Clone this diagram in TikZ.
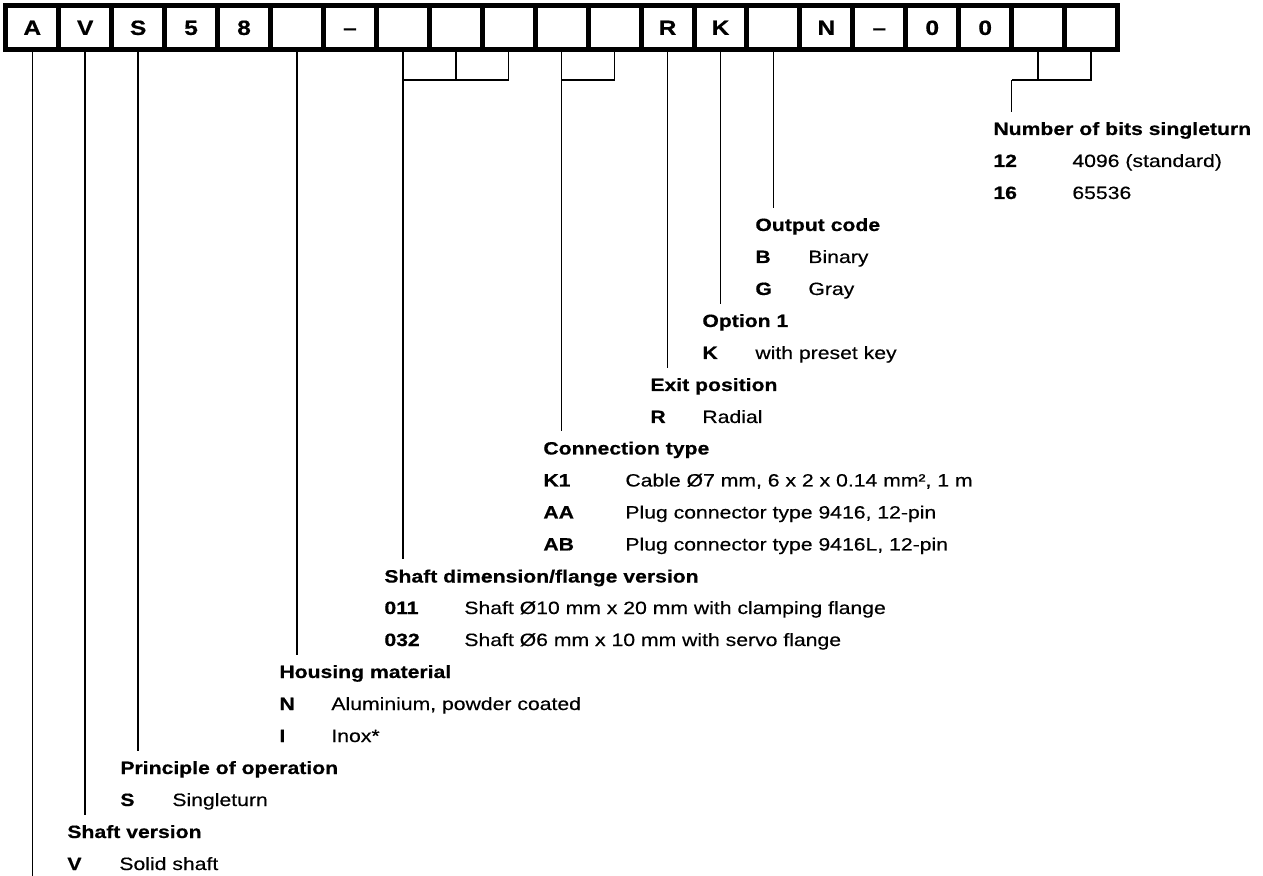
\documentclass[tikz,border=0pt]{standalone}
\usepackage{fontspec}
\setmainfont{Liberation Sans}[FakeStretch=1.19,
  UprightFeatures={FakeBold=0.35}, BoldFeatures={FakeBold=0.6}]
\usetikzlibrary{calc, positioning}

\begin{document}
\begin{tikzpicture}[x=0.5pt, y=-0.5pt,
    digit/.style={draw, line width=2.5pt, outer sep=0pt, inner sep=0pt,
      minimum width=26.47pt, minimum height=22pt, text height=7.4pt, text depth=0pt,
      font=\fontsize{10.3}{11}\selectfont\bfseries},
    leader/.style={line width=0.75pt},
    head/.style={anchor=base west, inner sep=0pt, font=\fontsize{8.9}{10}\selectfont\bfseries},
    key/.style={anchor=base west, inner sep=0pt, font=\fontsize{8.9}{10}\selectfont\bfseries},
    val/.style={anchor=base west, inner sep=0pt, font=\fontsize{8.9}{10}\selectfont}]
  \useasboundingbox (0,0) rectangle (1263,876);

  % Type code boxes
  \foreach \ch [count=\i from 0] in {A,V,S,5,8,{},\textendash,{},{},{},{},{},R,K,{},N,\textendash,0,0,{},{}}
    \node[digit] (b\i) at ({5.8+52.94*(\i+0.5)},27.5) {\ch};

  % Brackets under grouped boxes
  \coordinate (j7) at ([yshift=-15.25pt]b7.south);
  \coordinate (j10) at ([yshift=-15.25pt]b10.south);
  \coordinate (j19) at ([yshift=-15.25pt]b19.south west);
  \draw[leader] (b9.south) |- (j7);
  \draw[leader] (b8.south) -- (b8.south |- j7);
  \draw[leader] (b11.south) |- (j10);
  \draw[leader] (b20.south) |- (j19);
  \draw[leader] (b19.south) -- (b19.south |- j19);

  % Number of bits singleturn
  \node[head] (hbits) at (993,135) {Number of bits singleturn};
  \node[key] (k12) at (993,167) {12};
  \node[val] (v12) at (1072,167) {4096 (standard)};
  \node[key] (k16) at (993,199) {16};
  \node[val] (v16) at (1072,199) {65536};
  \draw[leader] (j19) -- ([yshift=11.5pt]j19 |- hbits.base);

  % Output code
  \node[head] (hout) at (755,231) {Output code};
  \node[key] (kB) at (755,263) {B};
  \node[val] (vB) at (808,263) {Binary};
  \node[key] (kG) at (755,295) {G};
  \node[val] (vG) at (808,295) {Gray};
  \draw[leader] (b14.south) -- ([yshift=11.5pt]b14.south |- hout.base);

  % Option 1
  \node[head] (hopt) at (702,327) {Option 1};
  \node[key] (kK) at (702,359) {K};
  \node[val] (vK) at (755,359) {with preset key};
  \draw[leader] (b13.south) -- ([yshift=11.5pt]b13.south |- hopt.base);

  % Exit position
  \node[head] (hexit) at (650,391) {Exit position};
  \node[key] (kR) at (650,423) {R};
  \node[val] (vR) at (702,423) {Radial};
  \draw[leader] (b12.south) -- ([yshift=11.5pt]b12.south |- hexit.base);

  % Connection type
  \node[head] (hconn) at (543,454.5) {Connection type};
  \node[key] (kK1) at (543,486.5) {K1};
  \node[val] (vK1) at (625,486.5) {Cable Ø7 mm, 6 x 2 x 0.14 mm², 1 m};
  \node[key] (kAA) at (543,518.5) {AA};
  \node[val] (vAA) at (625,518.5) {Plug connector type 9416, 12-pin};
  \node[key] (kAB) at (543,550.5) {AB};
  \node[val] (vAB) at (625,550.5) {Plug connector type 9416L, 12-pin};
  \draw[leader] (b10.south) -- ([yshift=11.5pt]b10.south |- hconn.base);

  % Shaft dimension/flange version
  \node[head] (hshaft) at (384,582.5) {Shaft dimension/flange version};
  \node[key] (k011) at (384,614) {011};
  \node[val] (v011) at (464,614) {Shaft Ø10 mm x 20 mm with clamping flange};
  \node[key] (k032) at (384,646) {032};
  \node[val] (v032) at (464,646) {Shaft Ø6 mm x 10 mm with servo flange};
  \draw[leader] (b7.south) -- ([yshift=11.5pt]b7.south |- hshaft.base);

  % Housing material
  \node[head] (hhouse) at (279,678) {Housing material};
  \node[key] (kN) at (279,710) {N};
  \node[val] (vN) at (331,710) {Aluminium, powder coated};
  \node[key] (kI) at (279,742) {I};
  \node[val] (vI) at (331,742) {Inox*};
  \draw[leader] (b5.south) -- ([yshift=11.5pt]b5.south |- hhouse.base);

  % Principle of operation
  \node[head] (hprin) at (120,774) {Principle of operation};
  \node[key] (kS) at (120,806) {S};
  \node[val] (vS) at (172,806) {Singleturn};
  \draw[leader] (b2.south) -- ([yshift=11.5pt]b2.south |- hprin.base);

  % Shaft version
  \node[head] (hver) at (67,838) {Shaft version};
  \node[key] (kV) at (67,870) {V};
  \node[val] (vV) at (119,870) {Solid shaft};
  \draw[leader] (b1.south) -- ([yshift=11.5pt]b1.south |- hver.base);

  % Leader of the first box runs to the lower edge
  \coordinate (aend) at (b0.south |- 0,876);
  \draw[leader] (b0.south) -- (aend);
\end{tikzpicture}
\end{document}
